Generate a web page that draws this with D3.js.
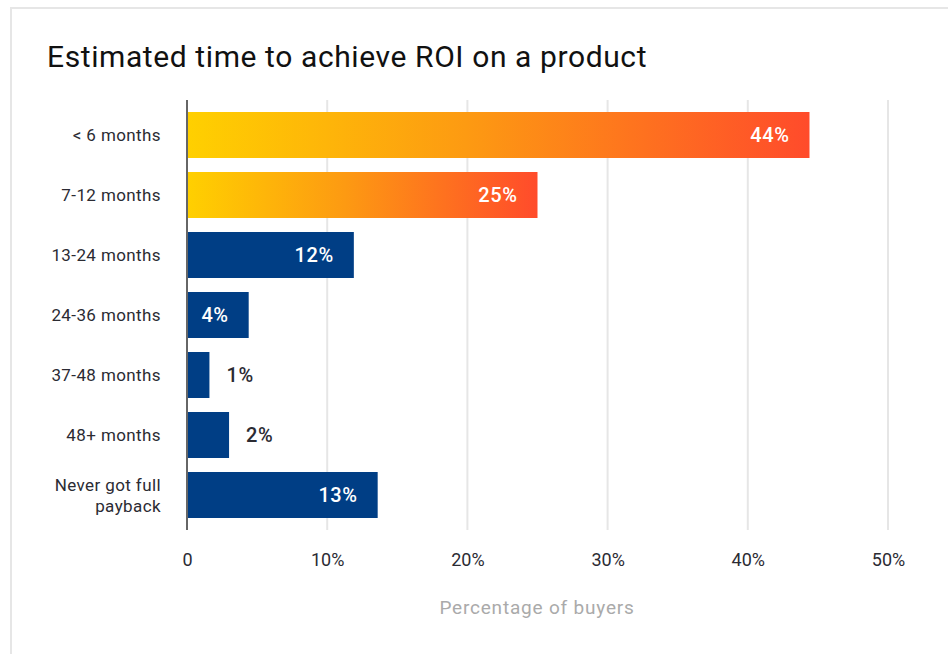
<!DOCTYPE html>
<html>
<head>
<meta charset="utf-8">
<script src="https://cdn.jsdelivr.net/npm/d3@7"></script>
<style>
  html, body { margin: 0; padding: 0; background: #fff; }
  svg { display: block; font-family: Roboto, "Noto Sans", sans-serif; }
</style>
</head>
<body>
<svg id="chart" width="948" height="654"></svg>
<script>
const categories = ["< 6 months", "7-12 months", "13-24 months", "24-36 months", "37-48 months", "48+ months", "Never got full payback"];
const values = [44.4, 25.0, 11.9, 4.4, 1.6, 3.0, 13.6];
const valueLabels = ["44%", "25%", "12%", "4%", "1%", "2%", "13%"];
const highlighted = [true, true, false, false, false, false, false];
const tickValues = [0, 10, 20, 30, 40, 50];
const tickLabels = ["0", "10%", "20%", "30%", "40%", "50%"];
const titleText = "Estimated time to achieve ROI on a product";
const axisTitle = "Percentage of buyers";

const svg = d3.select("#chart");

// card border
svg.append("rect").attr("x", 11).attr("y", 8).attr("width", 960).attr("height", 680)
  .attr("fill", "#fff").attr("stroke", "#e6e6e6").attr("stroke-width", 2);

const defs = svg.append("defs");
const grad = defs.append("linearGradient").attr("id", "hot")
  .attr("x1", "0%").attr("x2", "100%").attr("y1", "0%").attr("y2", "0%");
grad.append("stop").attr("offset", "0%").attr("stop-color", "#ffd000");
grad.append("stop").attr("offset", "45%").attr("stop-color", "#fd9a12");
grad.append("stop").attr("offset", "100%").attr("stop-color", "#ff4b2b");

const x = d3.scaleLinear().domain([0, 50]).range([187, 888]);
const y = d3.scaleBand().domain(categories).range([100, 530]).paddingInner(0.2333).paddingOuter(0.2);

// title
svg.append("text").attr("x", 47).attr("y", 67).text(titleText)
  .attr("font-size", 30).attr("font-weight", 400).attr("letter-spacing", 0.6).attr("fill", "#111");

// gridlines
svg.append("g").selectAll("line").data(tickValues.filter(d => d > 0)).join("line")
  .attr("x1", d => x(d)).attr("x2", d => x(d)).attr("y1", 100).attr("y2", 530)
  .attr("stroke", "#e6e6e6").attr("stroke-width", 2);

// bars
const data = categories.map((c, i) => ({c, v: values[i], l: valueLabels[i], h: highlighted[i]}));
svg.append("g").selectAll("rect").data(data).join("rect")
  .attr("x", x(0)).attr("y", d => y(d.c))
  .attr("width", d => x(d.v) - x(0)).attr("height", y.bandwidth())
  .attr("fill", d => d.h ? "url(#hot)" : "#003e85");

// value labels
svg.append("g").selectAll("text").data(data).join("text")
  .attr("x", d => (x(d.v) - x(0)) > 50 ? x(d.v) - 20 : x(d.v) + 17)
  .attr("y", d => y(d.c) + y.bandwidth() / 2)
  .attr("dy", "0.36em")
  .attr("text-anchor", d => (x(d.v) - x(0)) > 50 ? "end" : "start")
  .attr("font-size", 20).attr("font-weight", 500).attr("letter-spacing", 0.6)
  .attr("fill", d => (x(d.v) - x(0)) > 50 ? "#fff" : "#2b2b33")
  .text(d => d.l);

// y axis line
svg.append("line").attr("x1", x(0)).attr("x2", x(0)).attr("y1", 100).attr("y2", 530)
  .attr("stroke", "#666").attr("stroke-width", 2);

// category labels
const catG = svg.append("g");
data.forEach(d => {
  const cy = y(d.c) + y.bandwidth() / 2;
  const lines = d.c === "Never got full payback" ? ["Never got full", "payback"] : [d.c];
  const lh = 21;
  lines.forEach((ln, j) => {
    catG.append("text").attr("x", 161)
      .attr("y", cy + (j - (lines.length - 1) / 2) * lh)
      .attr("dy", "0.36em").attr("text-anchor", "end")
      .attr("font-size", 17).attr("letter-spacing", 0.4).attr("fill", "#2b2b33").text(ln);
  });
});

// x axis tick labels via d3 axis
const xAxis = d3.axisBottom(x).tickValues(tickValues).tickFormat((d, i) => tickLabels[i]).tickSize(0).tickPadding(0);
const ax = svg.append("g").attr("transform", "translate(0,550)").call(xAxis);
ax.select(".domain").remove();
ax.selectAll("text").attr("font-size", 18).attr("fill", "#2b2b33")
  .attr("font-family", "Roboto, sans-serif").attr("dy", "0.9em");

// axis title
svg.append("text").attr("x", 537).attr("y", 607).attr("dy", "0.36em")
  .attr("text-anchor", "middle").attr("font-size", 19).attr("letter-spacing", 0.8)
  .attr("fill", "#aaaaaa").text(axisTitle);
</script>
</body>
</html>
